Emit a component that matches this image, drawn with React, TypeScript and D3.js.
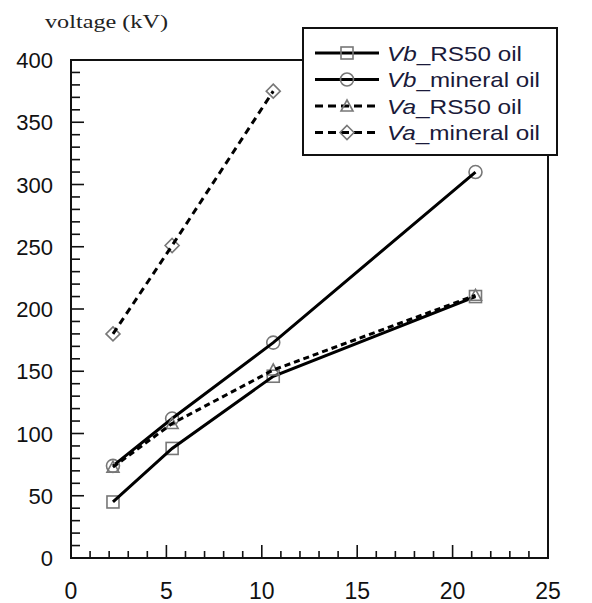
import React from "react";
import * as d3 from "d3";

const width = 592;
const height = 603;

const gaps = [2.2, 5.3, 10.6, 21.2];
const vbRs50 = [45, 88, 146, 210];
const vbMineral = [74, 112, 173, 310];
const vaRs50 = [73, 108, 151, 211];
const vaMineral = [180, 251, 375];
const xTicks = [0, 5, 10, 15, 20, 25];
const yTicks = [0, 50, 100, 150, 200, 250, 300, 350, 400];

const series = [
  { name: "Vb", rest: "_RS50 oil", values: vbRs50, dash: null, marker: "square" },
  { name: "Vb", rest: "_mineral oil", values: vbMineral, dash: null, marker: "circle" },
  { name: "Va", rest: "_RS50 oil", values: vaRs50, dash: "6,4", marker: "triangle" },
  { name: "Va", rest: "_mineral oil", values: vaMineral, dash: "7,5", marker: "diamond" },
];

const Marker = ({ type, x, y }) => {
  const s = { fill: "none", stroke: "#777", strokeWidth: 1.6 };
  if (type === "square") return <rect x={x - 6} y={y - 6} width={12} height={12} {...s} />;
  if (type === "circle") return <circle cx={x} cy={y} r={6.5} {...s} />;
  if (type === "triangle")
    return <path d={`M${x},${y - 6}L${x + 6},${y + 5}L${x - 6},${y + 5}Z`} {...s} />;
  return <path d={`M${x},${y - 7}L${x + 7},${y}L${x},${y + 7}L${x - 7},${y}Z`} {...s} />;
};

const App = () => {
  const xScale = d3.scaleLinear().domain([0, 25]).range([71, 548]);
  const yScale = d3.scaleLinear().domain([0, 400]).range([558, 60]);
  const line = d3
    .line<[number, number]>()
    .x(d => xScale(d[0]))
    .y(d => yScale(d[1]));
  const font = "Arial, 'Liberation Sans', sans-serif";

  return (
    <svg
      width={width}
      height={height}
      style={{ position: "absolute", left: 0, top: 0, background: "#fff" }}
    >
      <text
        x={45}
        y={28}
        fontFamily="'Liberation Serif', 'Times New Roman', serif"
        fontSize={19}
        textLength={123}
        lengthAdjust="spacingAndGlyphs"
        fill="#222"
      >
        voltage (kV)
      </text>

      {/* minor and major ticks, pointing inward */}
      {d3.range(0, 401, 10).map(v => (
        <line
          key={"yt" + v}
          x1={xScale(0)}
          x2={xScale(0) + (v % 50 === 0 ? 13 : 9)}
          y1={yScale(v)}
          y2={yScale(v)}
          stroke="#111"
          strokeWidth={1.6}
        />
      ))}
      {d3.range(0, 26, 1).map(v => (
        <line
          key={"xt" + v}
          x1={xScale(v)}
          x2={xScale(v)}
          y1={yScale(0)}
          y2={yScale(0) - (v % 5 === 0 ? 13 : 7)}
          stroke="#111"
          strokeWidth={1.6}
        />
      ))}

      <rect
        x={xScale(0)}
        y={yScale(400)}
        width={xScale(25) - xScale(0)}
        height={yScale(0) - yScale(400)}
        fill="none"
        stroke="#111"
        strokeWidth={2}
      />

      {yTicks.map(v => (
        <text
          key={"yl" + v}
          x={53}
          y={yScale(v) + 8}
          textAnchor="end"
          fontFamily={font}
          fontSize={22}
          fill="#111"
        >
          {v}
        </text>
      ))}
      {xTicks.map(v => (
        <text
          key={"xl" + v}
          x={xScale(v)}
          y={599}
          textAnchor="middle"
          fontFamily={font}
          fontSize={23}
          fill="#111"
        >
          {v}
        </text>
      ))}

      {series.map((s, i) => (
        <g key={"s" + i}>
          {s.values.map((v, j) => (
            <Marker key={j} type={s.marker} x={xScale(gaps[j])} y={yScale(v)} />
          ))}
          <path
            d={line(s.values.map((v, j) => [gaps[j], v]))}
            fill="none"
            stroke="#000"
            strokeWidth={3}
            strokeDasharray={s.dash || undefined}
          />
        </g>
      ))}

      <g>
        <rect x={303} y={28} width={254} height={127} fill="#fff" stroke="#111" strokeWidth={2} />
        {series.map((s, i) => {
          const ly = 53 + i * 26.5;
          return (
            <g key={"lg" + i}>
              <line
                x1={315}
                x2={379}
                y1={ly}
                y2={ly}
                stroke="#000"
                strokeWidth={3}
                strokeDasharray={s.dash ? "8,5" : undefined}
              />
              <Marker type={s.marker} x={347} y={ly} />
              <text
                x={387}
                y={ly + 7.5}
                fontFamily={font}
                fontSize={21}
                fill="#1a1a3a"
                textLength={s.rest.length > 10 ? 153 : 135}
                lengthAdjust="spacingAndGlyphs"
              >
                <tspan fontStyle="italic">{s.name}</tspan>
                {s.rest}
              </text>
            </g>
          );
        })}
      </g>
    </svg>
  );
};

export default App;
